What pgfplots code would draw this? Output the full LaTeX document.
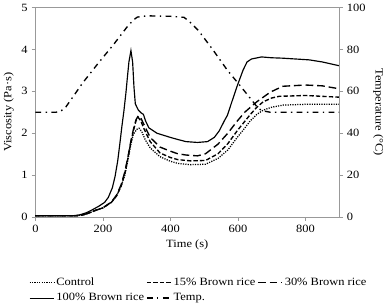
\documentclass[border=0pt]{standalone}
\usepackage{fontspec}
\setmainfont{Liberation Serif}[FakeStretch=1.12]
\usepackage{pgfplots}
\pgfplotsset{compat=1.18}
\begin{document}
\fontsize{11.5}{13.5}\selectfont
\begin{tikzpicture}
\pgfplotsset{
  every axis/.append style={
    width=313bp, height=216bp, scale only axis,
    xmin=0, xmax=900,
    font=\fontsize{11.5}{13.5}\selectfont,
    /pgf/number format/assume math mode=true,
    axis line style={gray!80},
    tick style={gray!80},
    major tick length=4bp,
    tick align=outside,
  },
  ctrl/.style={black, line width=1.3pt, dash pattern=on 1.2pt off 1.3pt},
  br15/.style={black, line width=1.4pt, dash pattern=on 4.5pt off 2.2pt},
  br30/.style={black, line width=1.4pt, dash pattern=on 8pt off 4pt},
  br100/.style={black, line width=1.2pt},
  tmp/.style={black, line width=1.4pt, dash pattern=on 6pt off 4.5pt on 1.5pt off 4.5pt},
}
\begin{axis}[
  ymin=0, ymax=5, ytick={0,1,2,3,4,5},
  xtick={0,200,400,600,800},
  ytick pos=left, xtick pos=bottom,
  xlabel={Time (s)}, ylabel={Viscosity (Pa·s)},
]
\addplot[ctrl] coordinates {
(0,0.03) (120,0.03) (140,0.05) (160,0.1) (178,0.16) (200,0.22) (225,0.35) (240,0.5) (254,0.74) (265,1.0) (274,1.36) (282,1.7) (290,1.97) (300,2.09) (307,2.12) (315,2.04) (325,1.85) (340,1.65) (369,1.44) (400,1.33) (422,1.28) (460,1.25) (504,1.26) (541,1.40) (570,1.6) (598,1.9) (620,2.12) (636,2.29) (656,2.45) (675,2.55) (700,2.62) (733,2.67) (800,2.69) (900,2.69)
};
\addplot[br15] coordinates {
(0,0.03) (120,0.03) (140,0.05) (160,0.1) (178,0.16) (200,0.22) (225,0.35) (240,0.5) (254,0.74) (265,1.05) (274,1.4) (282,1.75) (290,2.05) (298,2.3) (304,2.38) (312,2.3) (322,2.1) (340,1.8) (369,1.53) (400,1.42) (422,1.37) (460,1.34) (504,1.35) (541,1.51) (570,1.75) (598,2.06) (620,2.28) (636,2.44) (656,2.62) (675,2.75) (700,2.84) (722,2.88) (800,2.9) (900,2.86)
};
\addplot[br30] coordinates {
(0,0.03) (120,0.03) (140,0.05) (160,0.1) (178,0.16) (200,0.22) (225,0.36) (240,0.52) (254,0.77) (265,1.08) (274,1.43) (282,1.78) (290,2.08) (298,2.32) (305,2.42) (313,2.35) (322,2.2) (340,1.9) (369,1.67) (400,1.57) (422,1.51) (446,1.48) (480,1.46) (504,1.51) (541,1.74) (570,2.0) (598,2.29) (620,2.5) (656,2.75) (696,2.98) (733,3.12) (800,3.15) (850,3.13) (900,3.06)
};
\addplot[br100] coordinates {
(0,0.03) (110,0.03) (130,0.05) (150,0.1) (170,0.18) (188,0.26) (205,0.35) (216,0.47) (228,0.7) (236,0.97) (244,1.35) (250,1.74) (256,2.15) (262,2.52) (268,2.95) (272,3.29) (277,3.7) (283,3.97) (288,3.7) (292,3.1) (296,2.7) (305,2.55) (314,2.48) (320,2.45) (326,2.3) (336,2.13) (360,2.0) (400,1.9) (422,1.85) (446,1.8) (480,1.78) (510,1.8) (530,1.9) (545,2.06) (560,2.3) (569,2.43) (580,2.7) (598,3.13) (615,3.5) (627,3.7) (640,3.77) (670,3.82) (700,3.8) (733,3.79) (811,3.75) (850,3.7) (900,3.61)
};
\end{axis}
\begin{axis}[
  ymin=0, ymax=100, ytick={0,20,40,60,80,100},
  axis x line=none, axis y line*=right,
  ylabel={Temperature (°C)},
  ylabel style={rotate=180},
  legend columns=3,
  legend cell align=left,
  legend style={at={(-0.022,-0.28)}, anchor=north west, draw=none, fill=none,
    font=\fontsize{11.5}{13.5}\selectfont,
    /tikz/every even column/.append style={column sep=0bp},
    row sep=2.5bp, inner sep=0pt},
  legend image code/.code={\draw[#1] (0bp,0bp) -- (25bp,0bp);},
]
\addlegendimage{ctrl}\addlegendentry{Control}
\addlegendimage{br15}\addlegendentry{15\% Brown rice}
\addlegendimage{br30}\addlegendentry{30\% Brown rice}
\addlegendimage{br100}\addlegendentry{100\% Brown rice}
\addplot[tmp] coordinates {
(0,50) (60,50) (75,50.5) (90,52.5) (101,55) (140,64) (187,73.6) (230,82) (273,91) (290,94) (302,95.4) (330,96) (400,95.8) (440,95.3) (455,93.5) (483,89) (525,80) (569,70) (610,62) (640,56) (656,52.7) (670,50.8) (696,50) (900,50)
};
\addlegendentry{Temp.}
\end{axis}
\end{tikzpicture}
\end{document}
